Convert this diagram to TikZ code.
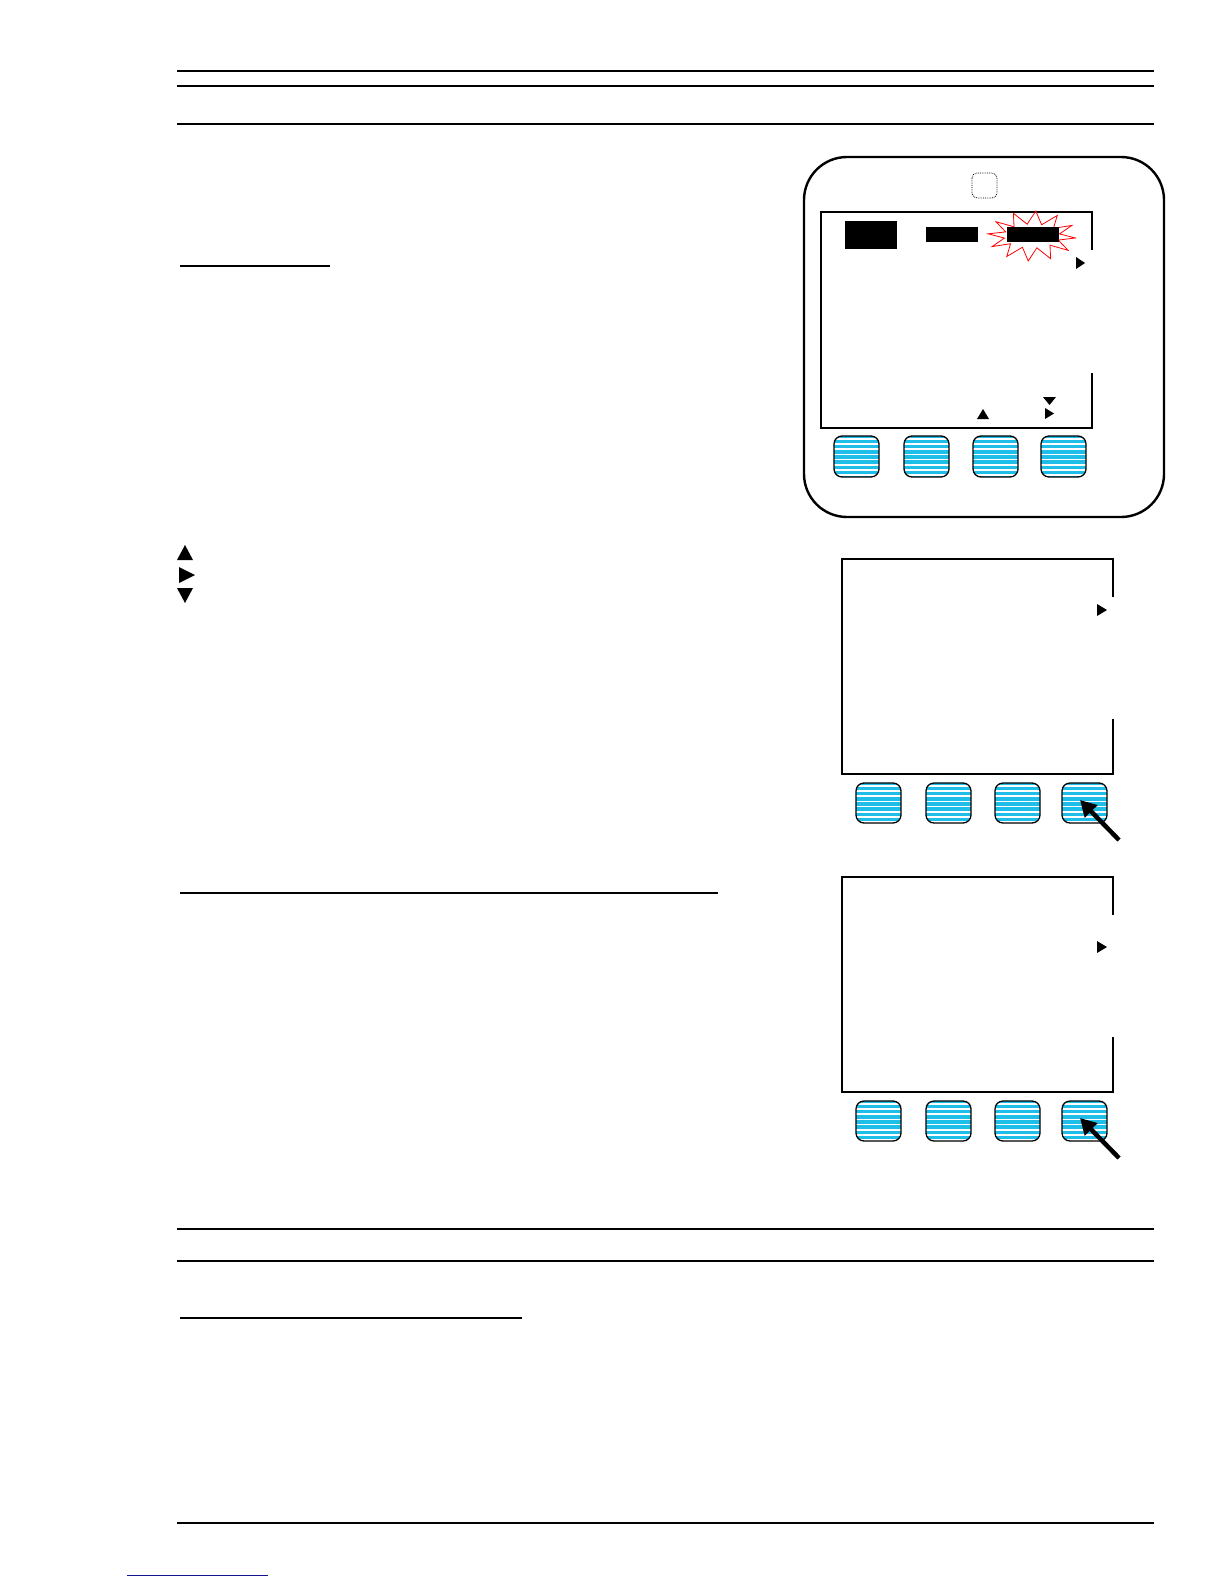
\documentclass[tikz,border=0pt]{standalone}
\usetikzlibrary{arrows.meta}
\definecolor{btncyan}{RGB}{30,190,232}
\definecolor{linkblue}{RGB}{20,20,140}
\tikzset{
  rule/.style={line width=1.2pt},
  thickrule/.style={line width=2.4pt},
  screen/.style={line width=2pt},
  tri/.style={fill=black},
  pointer/.style={line width=4.5pt,-{Triangle[length=16pt,width=17pt]}},
}
\newcommand\stripebtn[4]{%
  \begin{scope}
    \path[clip,rounded corners=8pt] (#1,#2) rectangle (#3,#4);
    \fill[btncyan] (#1,#2) rectangle (#3,#4);
    \foreach \yy in {0,5.2,...,42} {\draw[white,line width=1.7pt] (#1,#2+\yy+2.8) -- (#3,#2+\yy+2.8);}
  \end{scope}
  \draw[line width=1.3pt,rounded corners=8pt] (#1,#2) rectangle (#3,#4);
}
\newcommand\smallscreen[2]{%
  \begin{scope}[yshift=#1]
    \draw[screen] (1113,597) -- (1113,559) -- (842,559) -- (842,774) -- (1113,774) -- (1113,719);
    \fill (1097,604+#2) -- (1107,610+#2) -- (1097,616+#2) -- cycle;
    \stripebtn{856}{783}{901}{823}
    \stripebtn{926}{783}{971}{823}
    \stripebtn{995}{783}{1040}{823}
    \stripebtn{1062}{783}{1107}{823}
    \coordinate (tail) at (1119,840);
    \coordinate (tip) at (1080,800);
    \draw[pointer] (tail) -- (tip);
  \end{scope}
}
\begin{document}
\begin{tikzpicture}[x=1pt,y=-1pt]
\useasboundingbox (0,0) rectangle (1224,1584);
\fill[white] (0,0) rectangle (1224,1584);
% header rules
\draw[thickrule] (177,71) -- (1154,71);
\draw[rule] (177,86) -- (1154,86);
\draw[rule] (177,124) -- (1154,124);
% underlines
\draw[rule] (180,266) -- (330,266);
\draw[rule] (180,893) -- (718,893);
\draw[rule] (177,1229) -- (1154,1229);
\draw[rule] (177,1261) -- (1154,1261);
\draw[rule] (180,1318) -- (522,1318);
\draw[thickrule] (177,1523) -- (1154,1523);
\draw[linkblue,line width=1pt] (127,1575) -- (268,1575);
% left triangles
\fill (177,560) -- (185,545) -- (193,560) -- cycle;
\fill (179,567) -- (195,575) -- (179,583) -- cycle;
\fill (177,588) -- (193,588) -- (185,603) -- cycle;
% device 1
\draw[line width=2.4pt,rounded corners=43pt] (804,157) rectangle (1164,517);
\draw[densely dotted,line width=0.8pt,rounded corners=5pt] (972,173) rectangle (997,198);
\draw[screen] (1092,250) -- (1092,212) -- (821,212) -- (821,428) -- (1092,428) -- (1092,373);
\fill (845,221) rectangle (897,249);
\fill (926,227) rectangle (978,242);
\draw[red,line width=0.8pt,shift={(1032,236)}] (5:44 and 22)
  \foreach \a in {5,35,...,335}{ -- (\a+15:28 and 12) -- (\a+30:44 and 25)} -- cycle;
\fill (1007,227) rectangle (1059,242);
\fill (1076,257) -- (1085,263) -- (1076,269) -- cycle;
\fill (977,419) -- (983,409) -- (989,419) -- cycle;
\fill (1043,397) -- (1056,397) -- (1049.5,405) -- cycle;
\fill (1045,408) -- (1054,413.5) -- (1045,419) -- cycle;
\stripebtn{834}{436}{879}{477}
\stripebtn{904}{436}{949}{477}
\stripebtn{973}{436}{1018}{477}
\stripebtn{1041}{436}{1086}{477}
% devices 2 and 3
\smallscreen{0pt}{0}
\smallscreen{-318pt}{19}
\end{tikzpicture}
\end{document}
